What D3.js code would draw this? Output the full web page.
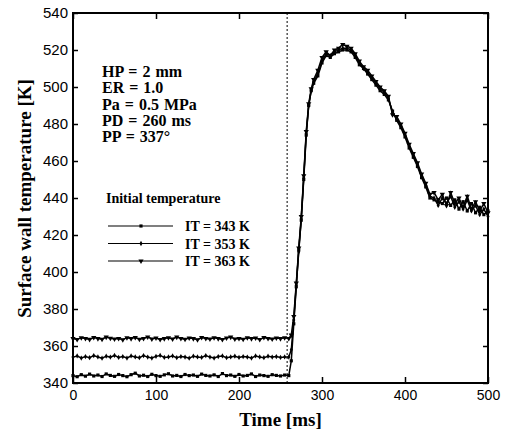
<!DOCTYPE html>
<html>
<head>
<meta charset="utf-8">
<script src="https://cdn.jsdelivr.net/npm/d3@7"></script>
<style>
  body { margin: 0; background: #fff; }
  svg { display: block; }
  .tick text { font-family: "Liberation Sans", Arial, sans-serif; }
  .serif { font-family: "Liberation Serif", "Times New Roman", serif; font-weight: bold; }
</style>
</head>
<body>
<svg></svg>
<script>
// time points (ms)
const times = [
    0, 5, 10, 15, 20, 25, 30, 35, 40, 45, 50, 55, 60, 65, 70, 75, 80, 85, 90, 95,
    100, 105, 110, 115, 120, 125, 130, 135, 140, 145, 150, 155, 160, 165, 170, 175, 180, 185, 190, 195,
    200, 205, 210, 215, 220, 225, 230, 235, 240, 245, 250, 255, 260,
    263, 266, 269, 272, 275, 278, 281, 284, 287,
    290, 295, 300, 305, 310, 315, 320, 325, 330, 335, 340, 345, 350, 355, 360, 365, 370, 375, 380, 385,
    390, 395, 400, 405, 410, 415, 420, 425, 430, 435, 440, 445, 450, 455, 460, 465, 470, 475, 480, 485,
    490, 495, 500
];

// IT = 343 K
const it343 = [
    344.0, 343.4, 344.5, 343.7, 344.8, 343.8, 344.3, 343.5, 344.9, 344.1, 343.6, 344.6, 344.0, 343.4, 344.5, 345.3, 343.8, 344.2, 343.5, 344.7,
    344.0, 343.6, 344.4, 345.0, 343.8, 344.1, 343.5, 344.6, 344.0, 344.3, 343.6, 344.8, 344.1, 343.8, 344.4, 343.5, 345.1, 344.0, 344.3, 343.6,
    344.6, 343.8, 344.1, 344.9, 343.5, 344.3, 344.0, 343.6, 344.5, 344.1, 343.8, 344.3, 344.0,
    352, 372, 392, 412, 428, 450, 474, 490, 498,
    502, 506, 513, 517, 516, 518, 519, 520, 520, 519, 516, 512, 510, 507, 504, 501, 498, 496, 493, 487,
    482, 478, 473, 467, 462, 457, 451, 446, 440, 439, 438, 437, 440, 436, 439, 434, 438, 433, 437, 432,
    435, 431, 433
];

// IT = 353 K
const it353 = [
    354.0, 354.6, 353.5, 354.3, 353.7, 354.8, 354.1, 353.4, 354.5, 354.0, 354.9, 353.8, 354.3, 353.5, 354.6, 354.1, 353.7, 354.8, 354.0, 353.5,
    354.4, 354.9, 353.8, 354.1, 354.6, 353.7, 354.3, 354.0, 353.4, 354.5, 354.1, 353.8, 354.8, 354.0, 353.5, 354.3, 354.6, 353.7, 354.1, 354.5,
    353.8, 354.3, 354.0, 353.5, 354.6, 354.1, 353.7, 354.5, 354.0, 354.3, 353.8, 354.1, 354.0,
    358, 374, 393, 411, 429, 451, 475, 490, 498,
    503, 507, 514, 518, 517, 519, 520, 521, 521, 520, 517, 513, 510, 508, 505, 502, 499, 497, 494, 486,
    483, 479, 474, 468, 463, 458, 452, 447, 441, 440, 436, 440, 437, 441, 435, 438, 434, 439, 433, 436,
    431, 434, 430
];

// IT = 363 K
const it363 = [
    364.0, 363.5, 364.5, 364.1, 363.6, 364.6, 364.0, 363.7, 364.8, 364.2, 363.8, 364.1, 363.4, 364.5, 364.0, 364.6, 363.7, 364.1, 364.9, 363.8,
    364.3, 363.5, 364.0, 364.5, 363.8, 364.8, 364.1, 363.7, 364.3, 364.0, 363.4, 364.6, 364.1, 363.8, 364.5, 364.0, 363.5, 364.3, 364.8, 363.8,
    364.1, 363.7, 364.5, 364.0, 364.3, 363.5, 364.6, 364.1, 363.8, 364.3, 364.0, 364.5, 364.1,
    366, 376, 394, 413, 430, 452, 476, 491, 499,
    504, 509, 516, 519, 517, 520, 521, 523, 522, 521, 518, 514, 511, 509, 506, 503, 500, 498, 495, 485,
    484, 480, 475, 469, 464, 459, 453, 448, 442, 443, 439, 442, 436, 443, 437, 440, 435, 441, 434, 438,
    433, 437, 432
];

const seriesNames = ["IT = 343 K", "IT = 353 K", "IT = 363 K"];
const seriesValues = [it343, it353, it363];
const markerTypes = ["square", "diamond", "triangle"];

const xTicks = [0, 100, 200, 300, 400, 500];
const yTicks = [340, 360, 380, 400, 420, 440, 460, 480, 500, 520, 540];
const pulseStart = 258;
const notes = ["HP = 2 mm", "ER = 1.0", "Pa = 0.5 MPa", "PD = 260 ms", "PP = 337\u00b0"];

const width = 508,
    height = 433,
    margin = { top: 13, right: 20, bottom: 50, left: 73 };

const svg = d3.select("svg").attr("width", width).attr("height", height);

const xScale = d3.scaleLinear().domain([0, 500]).range([margin.left, width - margin.right]);
const yScale = d3.scaleLinear().domain([340, 540]).range([height - margin.bottom, margin.top]);

const plotW = width - margin.left - margin.right,
    plotH = height - margin.top - margin.bottom;

// pulse start marker
svg.append("line")
    .attr("x1", xScale(pulseStart))
    .attr("x2", xScale(pulseStart))
    .attr("y1", yScale(540))
    .attr("y2", yScale(340))
    .attr("stroke", "#000")
    .attr("stroke-width", 1)
    .attr("stroke-dasharray", "2,2");

const symbolFor = (type) => {
    if (type === "square") return d3.symbol(d3.symbolSquare, 10);
    if (type === "diamond") return d3.symbol(d3.symbolDiamond, 8);
    return d3.symbol(d3.symbolTriangle, 12);
};

const line = d3.line()
    .x((d, i) => xScale(times[i]))
    .y((d) => yScale(d));

seriesValues.forEach((vals, k) => {
    svg.append("path")
        .datum(vals)
        .attr("fill", "none")
        .attr("stroke", "#000")
        .attr("stroke-width", 1.5)
        .attr("d", line);

    svg.append("g")
        .selectAll("path")
        .data(vals)
        .enter()
        .append("path")
        .attr("d", symbolFor(markerTypes[k]))
        .attr("transform", (d, i) =>
            "translate(" + xScale(times[i]) + "," + yScale(d) + ")" + (markerTypes[k] === "triangle" ? " rotate(180)" : ""))
        .attr("fill", "#000");
});

// axes with inward ticks
const xAxis = d3.axisBottom(xScale).tickValues(xTicks).tickSize(-6).tickPadding(7);
const xAxisTop = d3.axisTop(xScale).tickValues(xTicks).tickSize(-6).tickFormat("");
const yAxis = d3.axisLeft(yScale).tickValues(yTicks).tickSize(-5).tickPadding(5);
const yAxisRight = d3.axisRight(yScale).tickValues(yTicks).tickSize(-5).tickFormat("");

const gx = svg.append("g").attr("transform", "translate(0," + (height - margin.bottom) + ")").call(xAxis);
const gxt = svg.append("g").attr("transform", "translate(0," + margin.top + ")").call(xAxisTop);
const gy = svg.append("g").attr("transform", "translate(" + margin.left + ",0)").call(yAxis);
const gyr = svg.append("g").attr("transform", "translate(" + (width - margin.right) + ",0)").call(yAxisRight);

[gx, gxt, gy, gyr].forEach((g) => {
    g.select(".domain").remove();
    g.selectAll(".tick line").attr("stroke", "#000").attr("stroke-width", 1.5);
    g.selectAll(".tick text").attr("fill", "#000");
});
gx.selectAll(".tick text").attr("font-size", 14);
gy.selectAll(".tick text").attr("font-size", 15);

svg.append("rect")
    .attr("x", margin.left)
    .attr("y", margin.top)
    .attr("width", plotW)
    .attr("height", plotH)
    .attr("fill", "none")
    .attr("stroke", "#000")
    .attr("stroke-width", 2);

// axis titles
svg.append("text")
    .attr("class", "serif")
    .attr("x", margin.left + plotW / 2)
    .attr("y", 426)
    .attr("text-anchor", "middle")
    .attr("font-size", 19)
    .text("Time [ms]");

svg.append("text")
    .attr("class", "serif")
    .attr("transform", "translate(31,198.5) rotate(-90)")
    .attr("text-anchor", "middle")
    .attr("font-size", 19)
    .text("Surface wall temperature [K]");

// condition notes
svg.append("g")
    .selectAll("text")
    .data(notes)
    .enter()
    .append("text")
    .attr("class", "serif")
    .attr("x", 102)
    .attr("y", (d, i) => 77 + i * 16.3)
    .attr("font-size", 16)
    .attr("word-spacing", 1)
    .text((d) => d);

svg.append("text")
    .attr("class", "serif")
    .attr("x", 106)
    .attr("y", 203)
    .attr("font-size", 14)
    .text("Initial temperature");

// legend
const legend = svg.append("g");
seriesNames.forEach((name, k) => {
    const ly = 226 + k * 17.5;
    legend.append("line")
        .attr("x1", 108).attr("x2", 173)
        .attr("y1", ly).attr("y2", ly)
        .attr("stroke", "#000")
        .attr("stroke-width", 1.2);
    legend.append("path")
        .attr("d", symbolFor(markerTypes[k]))
        .attr("transform", "translate(141," + ly + ")" + (markerTypes[k] === "triangle" ? " rotate(180)" : ""))
        .attr("fill", "#000");
    legend.append("text")
        .attr("class", "serif")
        .attr("x", 185)
        .attr("y", ly + 5)
        .attr("font-size", 14)
        .text(name);
});
</script>
</body>
</html>
